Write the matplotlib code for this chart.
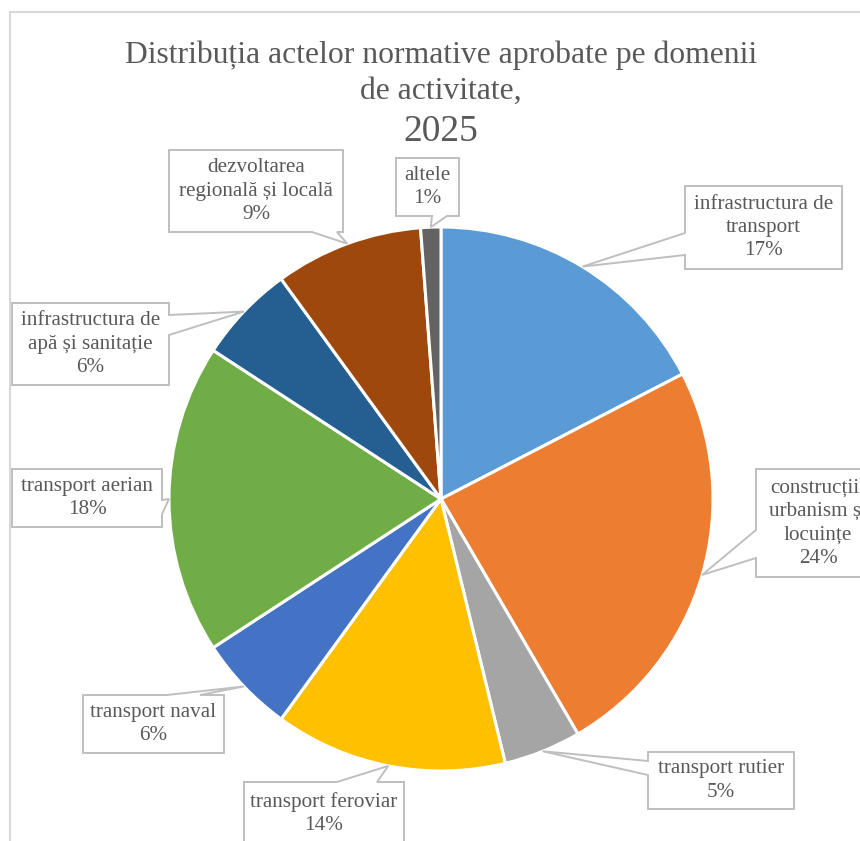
import numpy as np
import matplotlib
matplotlib.use("Agg")
import matplotlib.pyplot as plt
from matplotlib.patches import Polygon, Rectangle

# date (procente)
domenii = ['infrastructura de\ntransport', 'construcții,\nurbanism și\nlocuințe',
           'transport rutier', 'transport feroviar', 'transport naval',
           'transport aerian', 'infrastructura de\napă și sanitație',
           'dezvoltarea\nregională și locală', 'altele']
valori = [17.4, 24.2, 4.6, 13.8, 5.8, 18.4, 5.8, 8.8, 1.2]
culori = ['#5B9BD5', '#ED7D31', '#A5A5A5', '#FFC000', '#4472C4',
          '#70AD47', '#255E91', '#9E480E', '#636363']

W, H = 860, 841
CX, CY, R = 441, 499, 272
TXT = '#595959'
FONT = 'Liberation Serif'

# casete etichete (stanga, sus, dreapta, jos) in pixeli, latura cu varf, baza varfului
casete = [
    ((685, 186, 842, 269), 'left', (233, 255)),
    ((756, 469, 880, 577), 'left', (530, 558)),
    ((648, 752, 794, 809), 'left', (761, 775)),
    ((244, 782, 404, 845), 'top', (337, 377)),
    ((83, 695, 224, 753), 'top', (167, 200)),
    ((12, 469, 162, 527), 'right', (500, 514)),
    ((12, 303, 169, 385), 'right', (315, 335)),
    ((169, 150, 343, 232), 'bottom', (312, 337)),
    ((396, 158, 459, 216), 'bottom', (432, 447)),
]

fig = plt.figure(figsize=(W / 100, H / 100), dpi=100)
ax = fig.add_axes([0, 0, 1, 1])

# chenar zona grafic
ax.add_patch(Rectangle((10, -20), W + 20, H - 12 + 20, fill=False,
                       edgecolor='#D9D9D9', lw=1.5, zorder=0))

ax.pie(valori, colors=culori, startangle=90, counterclock=False,
       center=(CX, H - CY), radius=R, frame=True,
       wedgeprops=dict(edgecolor='white', linewidth=2.2))
ax.set_xlim(0, W)
ax.set_ylim(0, H)
ax.set_aspect('equal')
ax.axis('off')


def flip(p):
    return (p[0], H - p[1])


cum = np.cumsum([0] + valori)
for i, (box, side, base) in enumerate(casete):
    mid = (cum[i] + cum[i + 1]) / 2 / 100 * 2 * np.pi
    tip = (CX + R * np.sin(mid), CY - R * np.cos(mid))
    l, t, r, b = box
    b0, b1 = base
    TL, TR, BR, BL = (l, t), (r, t), (r, b), (l, b)
    if side == 'top':
        pts = [TL, (b0, t), tip, (b1, t), TR, BR, BL]
    elif side == 'right':
        pts = [TL, TR, (r, b0), tip, (r, b1), BR, BL]
    elif side == 'bottom':
        pts = [TL, TR, BR, (b1, b), tip, (b0, b), BL]
    else:
        pts = [TL, TR, BR, BL, (l, b1), tip, (l, b0)]
    ax.add_patch(Polygon([flip(p) for p in pts], closed=True, facecolor='white',
                         edgecolor='#BFBFBF', lw=1.4, zorder=5))
    txt = f"{domenii[i]}\n{round(valori[i])}%"
    ax.text((l + r) / 2, H - (t + b) / 2, txt, ha='center', va='center',
            fontsize=15.2, family=FONT, color=TXT, linespacing=1.32, zorder=6)

ax.text(441, H - 63, 'Distribuția actelor normative aprobate pe domenii',
        ha='center', va='baseline', fontsize=22.8, family=FONT, color=TXT)
ax.text(441, H - 99, 'de activitate,', ha='center', va='baseline',
        fontsize=22.8, family=FONT, color=TXT)
ax.text(441, H - 141, '2025', ha='center', va='baseline',
        fontsize=27, family=FONT, color=TXT)

fig.savefig('out.png', dpi=100)
